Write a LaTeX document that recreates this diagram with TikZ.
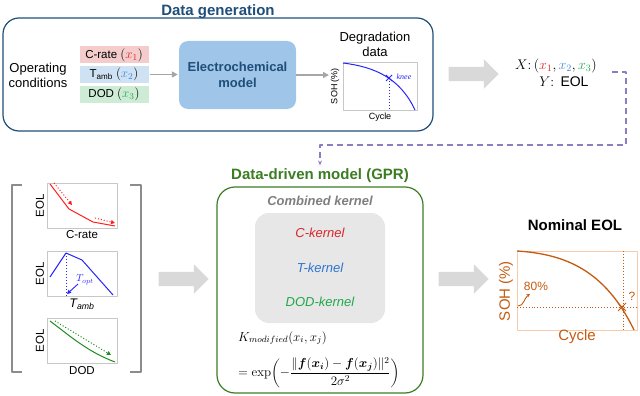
\documentclass[tikz,border=0pt]{standalone}
\usepackage{fix-cm}
\usepackage{amsmath}
\usepackage[no-math]{fontspec}
\setmainfont{Liberation Sans}
\newfontfamily\serifit{Liberation Serif}
\usetikzlibrary{shapes.arrows,arrows.meta}
\definecolor{navy}{HTML}{1F4E79}
\definecolor{eblue}{HTML}{9FC5E8}
\definecolor{cpink}{HTML}{F4CCCC}
\definecolor{cblue}{HTML}{CFE2F3}
\definecolor{cgreen}{HTML}{CDEBD5}
\definecolor{mred}{HTML}{E02424}
\definecolor{mblue}{HTML}{3D8BE0}
\definecolor{mgreen}{HTML}{22AA4A}
\definecolor{agray}{HTML}{A6A6A6}
\definecolor{bgray}{HTML}{D9D9D9}
\definecolor{purp}{HTML}{8E7CC3}
\definecolor{dgreen}{HTML}{3B7D23}
\definecolor{kgray}{HTML}{E7E7E7}
\definecolor{tgray}{HTML}{7F7F7F}
\definecolor{korange}{HTML}{C55A11}
\definecolor{lorange}{HTML}{F8CBAD}
\definecolor{pred}{HTML}{FF1E1E}
\definecolor{pblue}{HTML}{2424FF}
\definecolor{pgreen}{HTML}{1E8C1E}
\definecolor{kred}{HTML}{D9262B}
\definecolor{kblue}{HTML}{2E75D0}
\definecolor{kgreen}{HTML}{1FA84A}
\newcommand\fsz[2]{\fontsize{#1}{#2}\selectfont}
\begin{document}
\begin{tikzpicture}[x=1pt,y=-1pt,line join=round,
  garrow/.style={draw=agray,line width=1.6pt,-{Triangle[length=6pt,width=6pt]}},
  bigarrow/.style={single arrow,fill=bgray,draw=none,inner xsep=0pt,inner ysep=7pt,single arrow head extend=7.5pt,minimum height=50pt},
  condbox/.style={minimum width=69pt,minimum height=17pt,inner sep=0pt,font=\fsz{11.5}{13}},
  plotframe/.style={draw=black!22,line width=0.8pt,inner sep=0pt},
  miniframe/.style={plotframe,minimum width=70pt,minimum height=45pt},
  minilabel/.style={font=\fsz{11.5}{13}},
  rotlabel/.style={font=\fsz{11.5}{13},rotate=90},
  kernel/.style={font=\itshape\fsz{13}{15}},
  titletext/.style={font=\bfseries\fsz{15}{18}},
  minidot/.style={dotted,line width=1pt,-{Triangle[length=4pt,width=4pt]}},
  ]
\useasboundingbox (0,0) rectangle (640,396);

% ---------- Data generation ----------
\node[titletext,text=navy] (dgtitle) at (218,12) {Data generation};
\node[draw=navy,line width=1.2pt,rounded corners=16pt,minimum width=430pt,minimum height=113pt] (topbox) at (218,74.5) {};
\node[align=center,font=\fsz{13}{15}] (opc) at (38,75) {Operating\\conditions};
\node[condbox,fill=cpink] (crate) at (114,55) {C-rate {\fsz{13}{13}$(\textcolor{mred}{x_1})$}};
\node[condbox,fill=cblue] (tamb) at (114,74.5) {T\textsubscript{amb} {\fsz{13}{13}$(\textcolor{mblue}{x_2})$}};
\node[condbox,fill=cgreen] (dod) at (114,94.5) {DOD {\fsz{13}{13}$(\textcolor{mgreen}{x_3})$}};
\node[fill=eblue,rounded corners=9pt,minimum width=117pt,minimum height=68pt,align=center,font=\bfseries\fsz{13}{16},text=navy] (electro) at (237.5,75) {Electrochemical\\model};
\draw[garrow,shorten <=1pt,shorten >=1pt] (tamb.east) -- (electro.west |- tamb.east);

\node[align=center,font=\fsz{13}{15}] (degtext) at (375,44) {Degradation\\data};
\node[plotframe,minimum width=74pt,minimum height=48pt] (degplot) at (380,86) {};
\node[font=\fsz{9}{10},rotate=90] (degsoh) at (335,86) {SOH (\%)};
\node[font=\fsz{9}{10}] (degcyc) at (380,117) {Cycle};
\coordinate (degin) at (329,75);
\draw[garrow] (electro.east) -- (degin);
\draw[pblue,line width=1pt] (343,63) .. controls (375,67) and (400,78) .. (415,110);
\coordinate (knee) at (389,78);
\draw[pblue,dotted,line width=1pt] (knee) -- (389,110);
\draw[pblue,line width=1pt] (386,75) -- (392,81) (386,81) -- (392,75);
\node[font=\serifit\itshape\fsz{8}{9},text=pblue] (kneelab) at (404,77) {knee};

\node[bigarrow] (ba1) at (470,74) {};
\node[font=\fsz{14}{17}] (xy) at (556,66) {$X{:}\,(\textcolor{mred}{x_1},\textcolor{mblue}{x_2},\textcolor{mgreen}{x_3})$};
\node[font=\fsz{14}{17}] (ylab) at (564,82) {$Y{:}$\, EOL};

% ---------- Data-driven model ----------
\node[titletext,text=dgreen] (gprtitle) at (320,176) {Data-driven model (GPR)};
\coordinate (dstart) at (612,72);
\draw[purp,line width=1.5pt,dash pattern=on 6pt off 4pt,-{Stealth[length=5pt,width=4pt]}] (dstart) -- (626,72) -- (626,145) -- (320,145) -- (gprtitle.north);
\node[draw=dgreen,line width=1.2pt,rounded corners=18pt,minimum width=206pt,minimum height=206pt] (gprbox) at (320,290) {};
\node[font=\bfseries\itshape\fsz{13}{15},text=tgray] (comb) at (320,201) {Combined kernel};
\node[fill=kgray,rounded corners=14pt,minimum width=130pt,minimum height=110pt] (kbox) at (320,268) {};
\node[kernel,text=kred] (ck) at (320,233) {C-kernel};
\node[kernel,text=kblue] (tk) at (320,268) {T-kernel};
\node[kernel,text=kgreen] (dk) at (320,302) {DOD-kernel};
\node[anchor=west,font=\fsz{13}{15},inner sep=0pt] (kf1) at (238,338) {$K_{modified}(x_i,x_j)$};
\node[anchor=west,font=\fsz{13}{15},inner sep=0pt] (kf2) at (238,373) {$=\exp\biggl(-\dfrac{\|\boldsymbol{f}(\boldsymbol{x_i})-\boldsymbol{f}(\boldsymbol{x_j})\|^2}{2\sigma^2}\biggr)$};

% ---------- left panel ----------
\draw[black!45,line width=1.5pt] (22,185) -- (12,185) -- (12,372) -- (22,372);
\draw[black!45,line width=1.5pt] (130,185) -- (141,185) -- (141,372) -- (130,372);

\node[miniframe] (mp1) at (82,205.5) {};
\node[rotlabel] (eol1) at (40,206) {EOL};
\node[minilabel] (xl1) at (82,235) {C-rate};
\draw[pred,line width=1pt] (50,184) -- (69,209) -- (93,222) -- (115,226);
\draw[pred,minidot] (54,183) -- (72,205);
\draw[pred,minidot] (95,218) -- (115,223);

\node[miniframe] (mp2) at (82,273.5) {};
\node[rotlabel] (eol2) at (40,274) {EOL};
\node[minilabel,font=\itshape\fsz{12.5}{14}] (xl2) at (82,304) {T\textsubscript{amb}};
\draw[pblue,line width=1pt] (50,277) -- (66,253) -- (82,260) -- (113,295);
\draw[pblue,dotted,line width=1pt] (66,253) -- (66,296);
\draw[pblue,line width=0.9pt,-{Triangle[length=4pt,width=4pt]}] (78,284) -- (67,294);
\node[text=pblue,font=\fsz{10}{11}] (topt) at (85,280) {$T_{opt}$};

\node[miniframe] (mp3) at (82,341) {};
\node[rotlabel] (eol3) at (40,341) {EOL};
\node[minilabel] (xl3) at (82,371) {DOD};
\draw[pgreen,line width=1pt] (50,321) .. controls (70,336) and (88,352) .. (115,362);
\draw[pgreen,minidot] (55,321) -- (111,355);

\node[bigarrow] (ba2) at (180,279) {};
\node[bigarrow] (ba3) at (460,279) {};

% ---------- Nominal EOL ----------
\node[titletext,text=black] (nomtitle) at (575,225) {Nominal EOL};
\node[draw=lorange,line width=1pt,inner sep=0pt,minimum width=120pt,minimum height=79pt] (nplot) at (577,290.5) {};
\node[font=\fsz{15}{17},text=korange,rotate=90] (nsoh) at (506,291) {SOH (\%)};
\node[font=\fsz{15}{17},text=korange] (ncyc) at (577,337) {Cycle};
\draw[korange,dotted,line width=0.9pt] (517,307) -- (637,307);
\draw[korange,dotted,line width=0.9pt] (623,251) -- (623,330);
\draw[korange,line width=1.3pt] (517,251) .. controls (565,254) and (605,270) .. (634,330);
\draw[korange,line width=0.9pt] (618,303) -- (626,311) (618,311) -- (626,303);
\node[font=\fsz{12}{14},text=korange] (qm) at (632,296) {?};
\node[font=\fsz{12}{14},text=korange] (p80) at (536,286) {80\%};
\draw[korange,line width=0.9pt,-{Stealth[length=3.5pt,width=3.5pt]}] (518,306) .. controls (524,306) and (524,298) .. (530,294);
\end{tikzpicture}
\end{document}
